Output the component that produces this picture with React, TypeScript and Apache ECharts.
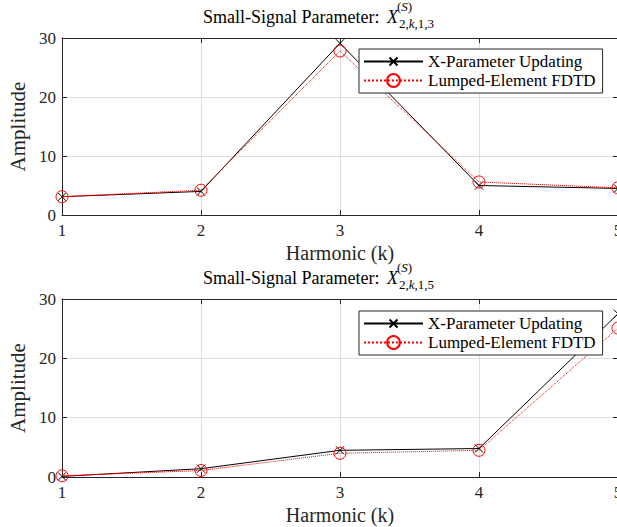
import React, { useEffect, useRef } from 'react';
import * as echarts from 'echarts';

const harmonics = [1, 2, 3, 4, 5];
const xParam13 = [3.1, 4.0, 29.1, 5.0, 4.5];
const fdtd13 = [3.1, 4.2, 27.8, 5.6, 4.6];
const xParam15 = [0.1, 1.4, 4.5, 4.8, 27.5];
const fdtd15 = [0.2, 1.1, 4.0, 4.5, 25.1];
const seriesNames = ['X-Parameter Updating', 'Lumped-Element FDTD'];
const titleSubs = ['1,3', '1,5'];
const titleMain = 'Small-Signal Parameter:';
const xLabel = 'Harmonic (k)';
const yLabel = 'Amplitude';
const yMin = 0;
const yMax = 30;
const yStep = 10;
const xMin = 1;
const xMax = 5;

const FONT = 'Liberation Serif, serif';
const AX = '#262626';
const GRID = '#dedede';
// cross marker with invisible padding points so it stays small inside its box
const CROSS = 'path://M-3,-3M0,0L10,10M10,0L0,10M13,13';

const panels = [
  { top: 38, height: 177, a: xParam13, b: fdtd13, sub: titleSubs[0], titleTop: 14, legendTop: 49 },
  { top: 299, height: 178, a: xParam15, b: fdtd15, sub: titleSubs[1], titleTop: 275, legendTop: 311 },
];

function buildOption() {
  const grid: any[] = [];
  const xAxis: any[] = [];
  const yAxis: any[] = [];
  const series: any[] = [];
  const legend: any[] = [];
  const title: any[] = [];
  const graphic: any[] = [];

  panels.forEach((p, i) => {
    grid.push({ left: 62, top: p.top, width: 556, height: p.height, containLabel: false, outerBoundsMode: 'none' });
    const tick = { show: true, inside: true, length: 5, lineStyle: { color: AX, width: 1 } };
    const line = { show: true, onZero: false, lineStyle: { color: AX, width: 1 } };
    xAxis.push({
      gridIndex: i, type: 'value', position: 'bottom', min: xMin, max: xMax, interval: 1,
      axisLine: line, axisTick: tick,
      axisLabel: { color: AX, fontFamily: FONT, fontSize: 17, margin: 7 },
      splitLine: { show: true, lineStyle: { color: GRID, width: 1 } },
      name: xLabel, nameLocation: 'middle', nameGap: 28,
      nameTextStyle: { color: AX, fontFamily: FONT, fontSize: 20 },
    });
    xAxis.push({
      gridIndex: i, type: 'value', position: 'top', min: xMin, max: xMax, interval: 1,
      axisLine: line, axisTick: tick, axisLabel: { show: false }, splitLine: { show: false },
    });
    yAxis.push({
      gridIndex: i, type: 'value', position: 'left', min: yMin, max: yMax, interval: yStep,
      axisLine: line, axisTick: tick,
      axisLabel: { color: AX, fontFamily: FONT, fontSize: 17, margin: 6 },
      splitLine: { show: true, lineStyle: { color: GRID, width: 1 } },
      name: yLabel, nameLocation: 'middle', nameGap: 32,
      nameTextStyle: { color: AX, fontFamily: FONT, fontSize: 21 },
    });
    yAxis.push({
      gridIndex: i, type: 'value', position: 'right', min: yMin, max: yMax, interval: yStep,
      axisLine: line, axisTick: tick, axisLabel: { show: false }, splitLine: { show: false },
    });
    series.push({
      name: seriesNames[0], type: 'line', xAxisIndex: 2 * i, yAxisIndex: 2 * i,
      data: harmonics.map((h, j) => [h, p.a[j]]),
      symbol: CROSS, symbolSize: 13, showAllSymbol: true, clip: false,
      lineStyle: { color: '#000', width: 1, type: 'solid' },
      itemStyle: { color: '#000', borderColor: '#000', borderWidth: 1 },
      z: 2,
    });
    series.push({
      name: seriesNames[1], type: 'line', xAxisIndex: 2 * i, yAxisIndex: 2 * i,
      data: harmonics.map((h, j) => [h, p.b[j]]),
      symbol: 'circle', symbolSize: 12, showAllSymbol: true, clip: false,
      lineStyle: { color: '#ff0000', width: 1, type: 'dotted' },
      itemStyle: { color: 'rgba(0,0,0,0)', borderColor: '#ff0000', borderWidth: 1 },
      z: 3,
    });
    legend.push({
      left: 359, top: p.legendTop, orient: 'vertical', data: seriesNames,
      itemWidth: 59, itemHeight: 16, itemGap: 2, padding: [4, 7, 4, 4],
      borderColor: AX, borderWidth: 1, backgroundColor: '#fff', borderRadius: 0,
      selectedMode: false,
      textStyle: { color: '#000', fontFamily: FONT, fontSize: 17 },
    });
    const [s1, s2] = p.sub.split(',');
    const base = { fontFamily: FONT, color: '#000', fontWeight: 'normal', verticalAlign: 'bottom' };
    title.push({
      left: 203, top: p.titleTop, padding: 0,
      text: `{m|${titleMain} }{x|X}{s|2,}{si|k}{s|,${s1},${s2}}`,
      textStyle: {
        fontFamily: FONT, fontSize: 18, color: '#000', fontWeight: 'normal',
        rich: {
          m: { ...base, fontSize: 18, lineHeight: 16, padding: [0, 0, 4, 0] },
          x: { ...base, fontSize: 18, lineHeight: 16, fontStyle: 'italic', padding: [0, 1, 4, 3] },
          s: { ...base, fontSize: 13, lineHeight: 13 },
          si: { ...base, fontSize: 13, lineHeight: 13, fontStyle: 'italic' },
        },
      },
    });
    graphic.push({
      type: 'text', left: 397, top: p.titleTop - 14,
      style: {
        text: '{p|(}{i|S}{p|)}',
        rich: {
          p: { fontFamily: FONT, fontSize: 13, lineHeight: 13, fill: '#000' },
          i: { fontFamily: FONT, fontSize: 13, lineHeight: 13, fontStyle: 'italic', fill: '#000' },
        },
      },
    });
  });

  return { animation: false, backgroundColor: '#fff', textStyle: { fontFamily: FONT }, grid, xAxis, yAxis, series, legend, title, graphic };
}

export default function App() {
  const ref = useRef<HTMLDivElement>(null);
  useEffect(() => {
    if (!ref.current) return;
    const chart = echarts.init(ref.current, undefined, { renderer: 'svg' });
    chart.setOption(buildOption() as any);
    return () => chart.dispose();
  }, []);
  return <div ref={ref} style={{ position: 'fixed', left: 0, top: 0, width: 617, height: 527, background: '#fff' }} />;
}
